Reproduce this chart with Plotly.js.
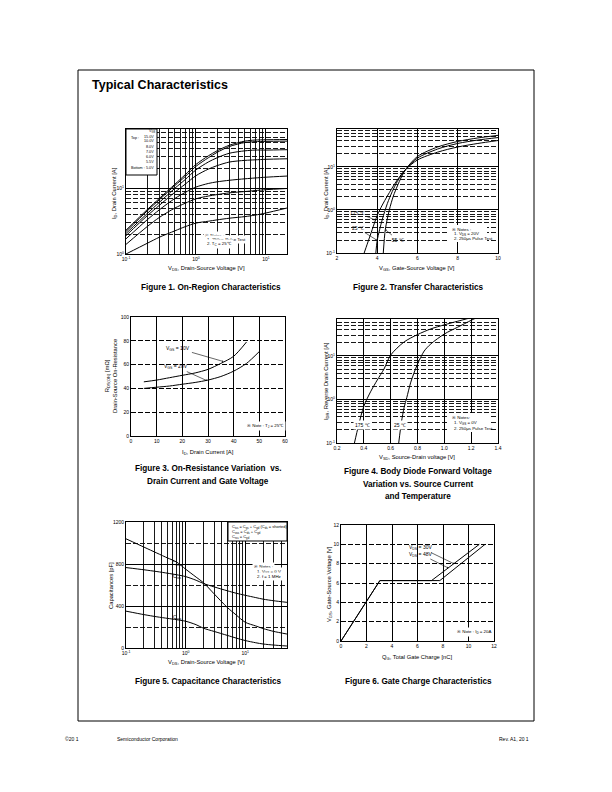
<!DOCTYPE html>
<html><head><meta charset="utf-8">
<script src="https://cdn.plot.ly/plotly-3.0.1.min.js"></script>
<style>html,body{margin:0;padding:0;background:#fff}#chart{width:612px;height:792px}</style>
</head><body><div id="chart"></div>
<script>
// ---------- Figure 1: On-Region Characteristics ----------
const fig1_vds = [0.1, 0.2, 0.3, 0.5, 0.7, 1, 1.5, 2, 3, 5, 7, 10, 20];
const fig1_id_15V = [2.3, 4.7, 7.0, 11.5, 16, 23, 31, 37, 45, 52, 54, 54.5, 55];
const fig1_id_10V = [2.2, 4.5, 6.7, 11, 15, 21.5, 29, 35, 43, 49.5, 51, 51.5, 52];
const fig1_id_8V = [2.05, 4.1, 6.1, 10, 13.5, 19, 25, 29, 34, 37, 38, 38, 38.5];
const fig1_id_7V = [1.9, 3.8, 5.5, 8.7, 11.5, 15.5, 19.5, 22, 25, 26.5, 27, 27.5, 28];
const fig1_id_6V = [1.7, 3.3, 4.7, 7.0, 8.6, 10.4, 11.8, 12.5, 13.2, 13.9, 14.3, 14.7, 15.3];
const fig1_id_5p5V = [1.4, 2.6, 3.6, 5.0, 5.9, 6.9, 7.6, 8.0, 8.5, 8.9, 9.2, 9.5, 9.9];
const fig1_id_5V = [1.0, 1.45, 1.8, 2.25, 2.6, 2.95, 3.15, 3.3, 3.5, 3.7, 3.9, 4.2, 5.0];
const fig1_legend = ['15.0V', '10.0V', '8.0V', '7.0V', '6.0V', '5.5V', '5.0V'];

// ---------- Figure 2: Transfer Characteristics ----------
const fig2_vgs_175C = [3.35, 3.5, 3.75, 4.0, 4.25, 4.5, 5.0, 5.4, 6, 7, 8, 9, 10];
const fig2_id_175C = [0.1, 0.16, 0.35, 0.75, 1.3, 2.1, 5.0, 8.6, 14.5, 22, 29, 35, 41];
const fig2_vgs_25C = [3.93, 4.0, 4.25, 4.5, 4.75, 5.0, 5.4, 6, 7, 8, 9, 10];
const fig2_id_25C = [0.1, 0.2, 0.6, 1.4, 2.7, 4.6, 8.6, 16, 26, 35, 42, 48];
const fig2_vgs_m55C = [4.3, 4.4, 4.6, 4.8, 5.0, 5.2, 5.4, 6, 7, 8, 9, 10];
const fig2_id_m55C = [0.1, 0.35, 1.0, 2.1, 3.6, 5.8, 8.6, 17.5, 29, 39, 47, 54];

// ---------- Figure 3: On-Resistance ----------
const fig3_id_10V = [5, 10, 15, 20, 25, 30, 35, 40, 45];
const fig3_r_10V = [45.5, 47, 49, 51, 53, 56, 61, 67, 79];
const fig3_id_20V = [5, 10, 15, 20, 25, 30, 35, 40, 45, 50];
const fig3_r_20V = [40, 41, 42, 43.5, 45, 47, 50, 54.5, 61, 71];

// ---------- Figure 4: Body Diode ----------
const fig4_vsd_175C = [0.33, 0.36, 0.40, 0.45, 0.5, 0.55, 0.6, 0.7, 0.8, 0.9, 1.0, 1.1, 1.2];
const fig4_idr_175C = [0.1, 0.25, 0.7, 1.5, 2.8, 5, 10.5, 21, 31, 42, 52, 63, 76];
const fig4_vsd_25C = [0.66, 0.68, 0.7, 0.72, 0.75, 0.8, 0.85, 0.9, 1.0, 1.1, 1.2, 1.25];
const fig4_idr_25C = [0.1, 0.3, 0.65, 1.1, 2.5, 6.5, 13, 19, 32, 46, 66, 78];

// ---------- Figure 5: Capacitance ----------
const fig5_vds = [0.1, 0.2, 0.33, 0.5, 0.7, 1, 1.5, 2, 3, 5, 7, 10, 15, 20, 30, 50];
const fig5_coss = [1040, 961, 904, 857, 820, 751, 675, 621, 516, 386, 316, 245, 210, 185, 158, 133];
const fig5_ciss = [766, 745, 728, 712, 698, 680, 645, 614, 582, 545, 522, 502, 480, 465, 450, 435];
const fig5_crss = [351, 318, 297, 282, 270, 255, 222, 188, 158, 120, 95, 71, 50, 38, 28, 19];

// ---------- Figure 6: Gate Charge ----------
const fig6_qg_30V = [0, 3.05, 7.1, 10.85];
const fig6_vgs_30V = [0, 6.25, 6.25, 10];
const fig6_qg_48V = [0, 3.05, 7.75, 11.3];
const fig6_vgs_48V = [0, 6.25, 6.25, 10];

// ---------- tick / grid values ----------
const decTicks1 = [0.1, 1, 10];
const decText1 = ['10<sup>-1</sup>', '10<sup>0</sup>', '10<sup>1</sup>'];
const minorX1 = [0.2,0.3,0.4,0.5,0.6,0.7,0.8,0.9,2,3,4,5,6,7,8,9,20,30,40];
const yTicks1 = [1, 10];
const yText1 = ['10<sup>0</sup>', '10<sup>1</sup>'];
const minorY1 = [2,3,4,5,6,7,8,9,20,30,40,50,60,70];
const yTicks2 = [0.1, 1, 10];
const yText2 = ['10<sup>-1</sup>', '10<sup>0</sup>', '10<sup>1</sup>'];
const minorY2 = [0.2,0.3,0.4,0.5,0.6,0.7,0.8,0.9,2,3,4,5,6,7,8,9,20,30,40,50,60,70];

const W = 612, H = 792;
const FONT = 'Liberation Sans, Arial, Helvetica, sans-serif';
const DASH = '5px,2px';
const boxes = {
  f1: [126, 287, 129, 254], f2: [337, 498, 129, 253], f3: [131, 285, 317, 436],
  f4: [337, 498, 319, 443], f5: [126, 287, 522, 648], f6: [341, 494, 525, 641]
};
function dx(b){ return [b[0]/W, b[1]/W]; }
function dy(b){ return [1 - b[3]/H, 1 - b[2]/H]; }
function base(extra){
  return Object.assign({
    showline: true, mirror: true, linecolor: '#000', linewidth: 1, zeroline: false,
    ticks: 'inside', ticklen: 2, tickcolor: '#000', tickwidth: 0.8,
    tickfont: {family: FONT, size: 5, color: '#000'},
    showgrid: true, gridcolor: '#000', gridwidth: 1, fixedrange: true, automargin: false
  }, extra);
}
function minorGrid(vals, dash){
  return {tickmode: 'array', tickvals: vals, showgrid: true, gridcolor: '#000', gridwidth: 0.9, griddash: dash, ticks: ''};
}

const line = {color: '#000', width: 1, shape: 'spline', smoothing: 0.8};
function tr(x, y, xa, ya, name, ln){
  return {x: x, y: y, xaxis: xa, yaxis: ya, name: name, mode: 'lines', line: ln || line, hoverinfo: 'skip'};
}
const data = [
  tr(fig1_vds, fig1_id_15V, 'x', 'y', '15.0V'),
  tr(fig1_vds, fig1_id_10V, 'x', 'y', '10.0V'),
  tr(fig1_vds, fig1_id_8V, 'x', 'y', '8.0V'),
  tr(fig1_vds, fig1_id_7V, 'x', 'y', '7.0V'),
  tr(fig1_vds, fig1_id_6V, 'x', 'y', '6.0V'),
  tr(fig1_vds, fig1_id_5p5V, 'x', 'y', '5.5V'),
  tr(fig1_vds, fig1_id_5V, 'x', 'y', '5.0V'),
  tr(fig2_vgs_175C, fig2_id_175C, 'x2', 'y2', '175C'),
  tr(fig2_vgs_25C, fig2_id_25C, 'x2', 'y2', '25C'),
  tr(fig2_vgs_m55C, fig2_id_m55C, 'x2', 'y2', '-55C'),
  tr(fig3_id_10V, fig3_r_10V, 'x3', 'y3', 'VGS=10V'),
  tr(fig3_id_20V, fig3_r_20V, 'x3', 'y3', 'VGS=20V'),
  tr(fig4_vsd_175C, fig4_idr_175C, 'x4', 'y4', '175C'),
  tr(fig4_vsd_25C, fig4_idr_25C, 'x4', 'y4', '25C'),
  tr(fig5_vds, fig5_coss, 'x5', 'y5', 'Coss'),
  tr(fig5_vds, fig5_ciss, 'x5', 'y5', 'Ciss'),
  tr(fig5_vds, fig5_crss, 'x5', 'y5', 'Crss'),
  tr(fig6_qg_30V, fig6_vgs_30V, 'x6', 'y6', 'VDS=30V', {color: '#000', width: 1}),
  tr(fig6_qg_48V, fig6_vgs_48V, 'x6', 'y6', 'VDS=48V', {color: '#000', width: 1})
];

const ann = [];
function txt(t, px, py, size, opts){
  ann.push(Object.assign({xref: 'paper', yref: 'paper', x: px/W, y: 1 - py/H, text: t, showarrow: false,
    font: {family: FONT, size: size, color: '#000'}, xanchor: 'center', yanchor: 'middle'}, opts || {}));
}
function arrow(t, xref, yref, x, y, ax, ay, size){
  ann.push({xref: xref, yref: yref, x: x, y: y, text: t, showarrow: true, ax: ax, ay: ay,
    arrowhead: 1, arrowsize: 0.6, arrowwidth: 0.6, arrowcolor: '#000', standoff: 0,
    font: {family: FONT, size: size, color: '#000'}});
}

// page title and footer
txt('<b>Typical Characteristics</b>', 90, 85, 12.5, {xanchor: 'left'});
txt('©20 1', 63, 739, 5, {xanchor: 'left'});
txt('Semiconductor Corporation', 115, 739, 5, {xanchor: 'left'});
txt('Rev. A1, 20 1', 531, 739, 5, {xanchor: 'right'});

// captions
const CAP = 8.2;
txt('<b>Figure 1. On-Region Characteristics</b>', 211, 287, CAP);
txt('<b>Figure 2. Transfer Characteristics</b>', 418, 287, CAP);
txt('<b>Figure 3. On-Resistance Variation  vs.</b>', 208, 469, CAP);
txt('<b>Drain Current and Gate Voltage</b>', 208, 481, CAP);
txt('<b>Figure 4. Body Diode Forward Voltage</b>', 418, 472, CAP);
txt('<b>Variation vs. Source Current</b>', 418, 484, CAP);
txt('<b>and Temperature</b>', 418, 496, CAP);
txt('<b>Figure 5. Capacitance Characteristics</b>', 208, 681, CAP);
txt('<b>Figure 6. Gate Charge Characteristics</b>', 418, 681, CAP);

// axis titles
const AT = 5.8;
txt('V<sub>DS</sub>, Drain-Source Voltage [V]', 206, 268, AT);
txt('I<sub>D</sub>, Drain Current [A]', 114, 193, AT, {textangle: -90});
txt('V<sub>GS</sub>, Gate-Source Voltage [V]', 417, 268, AT);
txt('I<sub>D</sub>, Drain Current [A]', 326, 193, AT, {textangle: -90});
txt('I<sub>D</sub>, Drain Current [A]', 208, 452, AT);
txt('R<sub>DS(ON)</sub> [mΩ]<br>Drain-Source On-Resistance', 111, 376, AT, {textangle: -90});
txt('V<sub>SD</sub>, Source-Drain voltage [V]', 417, 457, AT);
txt('I<sub>DR</sub>, Reverse Drain Current [A]', 326, 381, AT, {textangle: -90});
txt('V<sub>DS</sub>, Drain-Source Voltage [V]', 206, 662, AT);
txt('Capacitances [pF]', 111, 586, AT, {textangle: -90});
txt('Q<sub>G</sub>, Total Gate Charge [nC]', 417, 657, AT);
txt('V<sub>GS</sub>, Gate-Source Voltage [V]', 329, 584, AT, {textangle: -90});

// fig1 legend
const LF = 3.7;
txt('V<sub>GS</sub>', 152, 132, LF);
txt('Top :', 129, 138.5, LF, {xanchor: 'left'});
const legY = [136.5, 141.5, 146.8, 152, 157.2, 162.3, 167.5];
fig1_legend.forEach((t, i) => txt(t, 155.5, legY[i], LF, {xanchor: 'right'}));
txt('Bottom :', 128.5, 167.5, LF, {xanchor: 'left'});
// fig1 notes
const NF = 4.4;
txt('※ Notes :', 203, 235, NF, {xanchor: 'left', bgcolor: '#fff'});
txt('1. 250μs Pulse Test', 205, 239.3, NF, {xanchor: 'left', bgcolor: '#fff'});
txt('2. T<sub>C</sub> = 25℃', 205, 243.5, NF, {xanchor: 'left', bgcolor: '#fff'});
// fig2
txt('※ Notes :', 450, 229, NF, {xanchor: 'left'});
txt('1. V<sub>DS</sub> = 20V', 452, 233.7, NF, {xanchor: 'left'});
txt('2. 250μs Pulse Test', 452, 238.3, NF, {xanchor: 'left'});
arrow('175 ℃', 'x2', 'y2', 3.88, Math.log10(0.59), -17, -7, 5);
arrow('25 ℃', 'x2', 'y2', 3.97, Math.log10(0.2), -19, -12, 5);
arrow('-55 ℃', 'x2', 'y2', 4.4, Math.log10(0.35), 12, 10, 5);
// fig3
arrow('V<sub>GS</sub> = 10V', 'x3', 'y3', 36, 62.6, -45, -13, 5);
arrow('V<sub>GS</sub> = 20V', 'x3', 'y3', 29.5, 46.6, -31, -14, 5);
txt('※ Note : T<sub>J</sub> = 25℃', 245, 426, NF, {xanchor: 'left', bgcolor: '#fff'});
// fig4
txt('175 ℃', 362, 425, 5, {bgcolor: '#fff'});
txt('25 ℃', 400, 425, 5, {bgcolor: '#fff'});
txt('※ Notes:', 450, 417, NF, {xanchor: 'left'});
txt('1. V<sub>GS</sub> = 0V', 452, 423, NF, {xanchor: 'left'});
txt('2. 250μs Pulse Test', 452, 428, NF, {xanchor: 'left'});
// fig5
txt('C<sub>iss</sub> = C<sub>gs</sub> + C<sub>gd</sub> (C<sub>ds</sub> = shorted)', 230, 526.7, 4, {xanchor: 'left'});
txt('C<sub>oss</sub> = C<sub>ds</sub> + C<sub>gd</sub>', 230, 531.7, 4, {xanchor: 'left'});
txt('C<sub>rss</sub> = C<sub>gd</sub>', 230, 536.7, 4, {xanchor: 'left'});
txt('C<sub>oss</sub>', 176, 563, 5);
txt('C<sub>iss</sub>', 177, 576, 5);
txt('C<sub>rss</sub>', 177, 617, 5);
txt('※ Notes :', 252, 566, NF, {xanchor: 'left', bgcolor: '#fff'});
txt('1. V<sub>GS</sub> = 0 V', 255, 571.5, NF, {xanchor: 'left', bgcolor: '#fff'});
txt('2. f = 1 MHz', 255, 576.5, NF, {xanchor: 'left', bgcolor: '#fff'});
// fig6
arrow('V<sub>DS</sub> = 30V', 'x6', 'y6', 8.85, 8.0, -33, -16, 5);
arrow('V<sub>DS</sub> = 48V', 'x6', 'y6', 8.42, 7.55, -28, -14, 5);
txt('※ Note : I<sub>D</sub> = 20A', 455, 631.5, NF, {xanchor: 'left', bgcolor: '#fff'});

function rectPx(x0, y0, x1, y1, fill, lw){
  return {type: 'rect', xref: 'paper', yref: 'paper', x0: x0/W, x1: x1/W, y0: 1 - y1/H, y1: 1 - y0/H,
    fillcolor: fill, line: {color: '#000', width: lw}, layer: 'above'};
}
const shapes = [
  rectPx(78, 70, 534, 721, 'rgba(0,0,0,0)', 1),
  rectPx(126, 129, 157, 175, '#fff', 1),
  rectPx(448, 225, 487, 242, '#fff', 0),
  rectPx(448, 413, 489, 432, '#fff', 0),
  rectPx(228, 522, 287, 541, '#fff', 1)
];

const layout = {
  width: W, height: H, margin: {l: 0, r: 0, t: 0, b: 0},
  paper_bgcolor: '#fff', plot_bgcolor: '#fff', showlegend: false,
  font: {family: FONT, color: '#000'},
  xaxis: base({domain: dx(boxes.f1), anchor: 'y', type: 'log', range: [-1, Math.log10(20)],
    tickmode: 'array', tickvals: decTicks1, ticktext: decText1, minor: minorGrid(minorX1, 'solid')}),
  yaxis: base({domain: dy(boxes.f1), anchor: 'x', type: 'log', range: [0, 1.9],
    tickmode: 'array', tickvals: yTicks1, ticktext: yText1, minor: minorGrid(minorY1, DASH)}),
  xaxis2: base({domain: dx(boxes.f2), anchor: 'y2', range: [2, 10], dtick: 2, tick0: 2}),
  yaxis2: base({domain: dy(boxes.f2), anchor: 'x2', type: 'log', range: [-1, 1.88],
    tickmode: 'array', tickvals: yTicks2, ticktext: yText2, minor: minorGrid(minorY2, DASH)}),
  xaxis3: base({domain: dx(boxes.f3), anchor: 'y3', range: [0, 60], dtick: 10}),
  yaxis3: base({domain: dy(boxes.f3), anchor: 'x3', range: [0, 100], dtick: 20, griddash: DASH}),
  xaxis4: base({domain: dx(boxes.f4), anchor: 'y4', range: [0.2, 1.4], dtick: 0.2, tick0: 0.2, tickformat: '.1f'}),
  yaxis4: base({domain: dy(boxes.f4), anchor: 'x4', type: 'log', range: [-1, 1.85],
    tickmode: 'array', tickvals: yTicks2, ticktext: yText2, minor: minorGrid(minorY2, DASH)}),
  xaxis5: base({domain: dx(boxes.f5), anchor: 'y5', type: 'log', range: [-1, 1.7],
    tickmode: 'array', tickvals: decTicks1, ticktext: decText1, minor: minorGrid(minorX1, 'solid')}),
  yaxis5: base({domain: dy(boxes.f5), anchor: 'x5', range: [0, 1200], tickmode: 'array',
    tickvals: [0, 400, 800, 1200], minor: minorGrid([200, 600, 1000], DASH)}),
  xaxis6: base({domain: dx(boxes.f6), anchor: 'y6', range: [0, 12], dtick: 2}),
  yaxis6: base({domain: dy(boxes.f6), anchor: 'x6', range: [0, 12], dtick: 2, griddash: DASH}),
  shapes: shapes,
  annotations: ann
};

Plotly.newPlot('chart', data, layout, {staticPlot: true, displayModeBar: false});
</script></body></html>
